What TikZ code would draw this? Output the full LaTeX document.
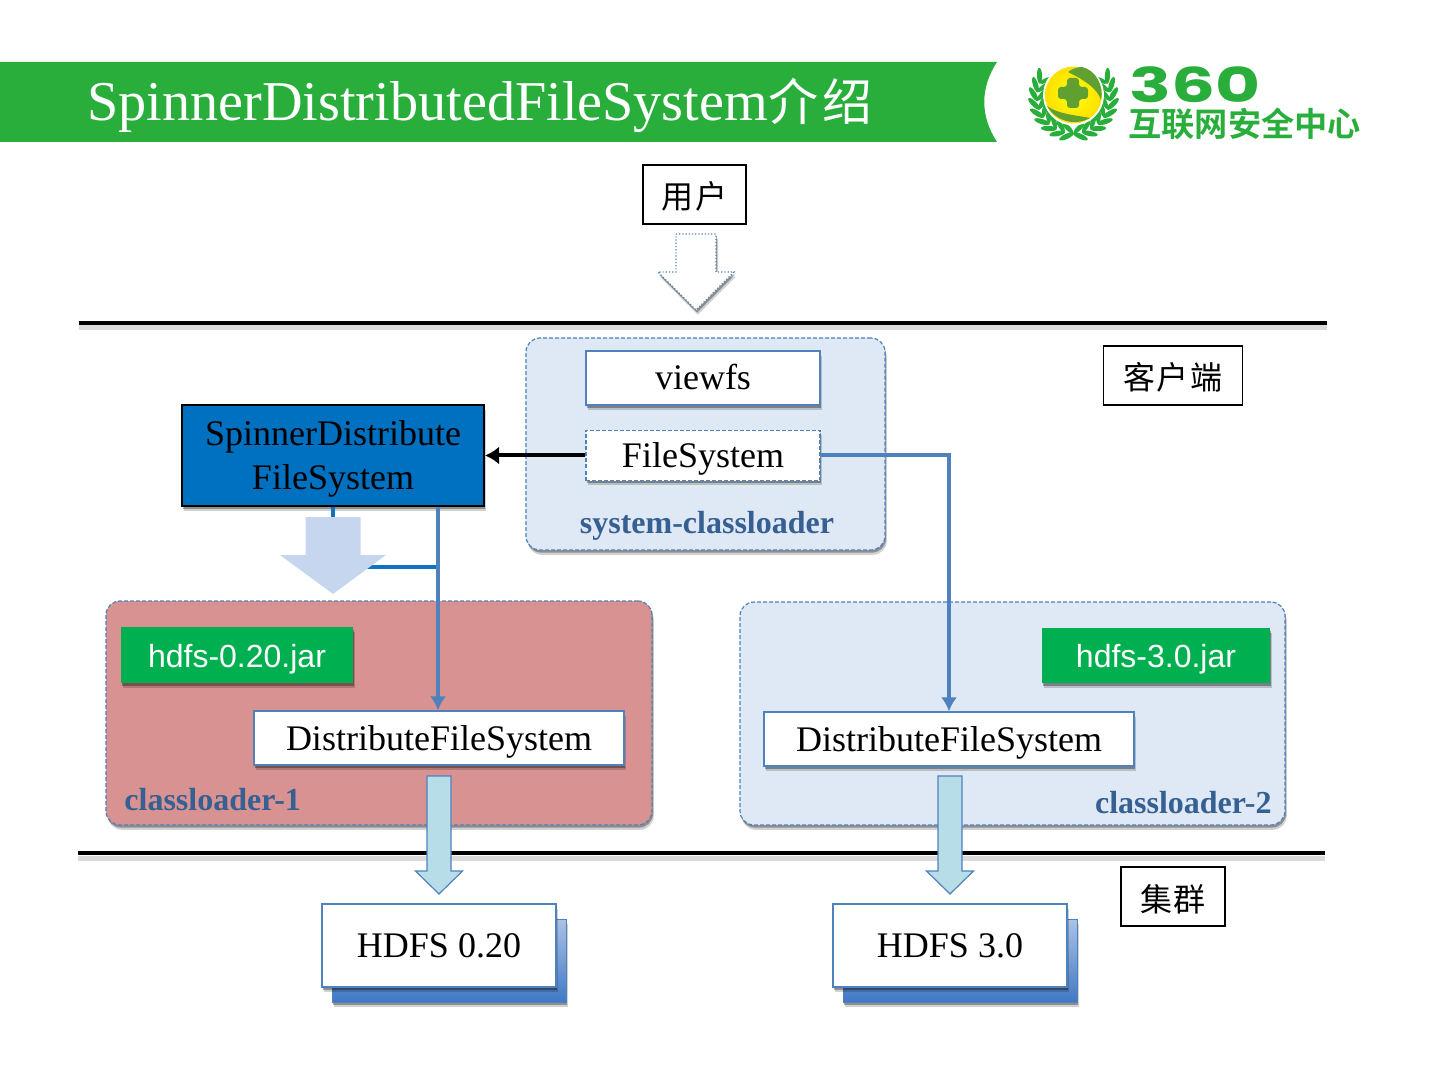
\documentclass[tikz,border=0pt]{standalone}
\usepackage{fontspec}
\setmainfont{Liberation Serif}
\setsansfont{Liberation Sans}
\newfontfamily\cjk[LetterSpace=6]{Noto Sans CJK SC}
\newfontfamily\cjktitle[LetterSpace=8]{Noto Sans CJK SC}
\newfontfamily\cjklogo{Noto Sans CJK SC Bold}
\newfontfamily\logonum{Poppins Bold}
\usetikzlibrary{arrows.meta,positioning,calc,shadows}
\definecolor{BarGreen}{RGB}{41,174,60}
\definecolor{JarGreen}{RGB}{0,176,80}
\definecolor{LoaderBlue}{RGB}{223,232,245}
\definecolor{LoaderRed}{RGB}{216,146,146}
\definecolor{EdgeBlue}{RGB}{79,129,189}
\definecolor{LabelBlue}{RGB}{54,96,146}
\definecolor{SpinnerBlue}{RGB}{0,112,192}
\definecolor{PaleArrow}{RGB}{198,214,238}
\definecolor{SkyArrow}{RGB}{183,221,232}
\definecolor{BackBlue}{RGB}{66,120,198}
\definecolor{BallGreen}{RGB}{96,160,48}
\newcommand{\blockarrow}[7]{% x, top, neck, tip, half body, half head, style
  \draw[#7] (#1-#5,#2) -- (#1+#5,#2) -- (#1+#5,#3) -- (#1+#6,#3) -- (#1,#4) -- (#1-#6,#3) -- (#1-#5,#3) -- cycle;
}
\begin{document}
\begin{tikzpicture}[
  x=0.5pt,y=-0.5pt,
  softshadow/.style={
    drop shadow={shadow xshift=0.9pt,shadow yshift=-2.4pt,opacity=0.18,fill=black},
    drop shadow={shadow xshift=0.5pt,shadow yshift=-1.3pt,opacity=0.32,fill=black}},
  tag/.style={rectangle,draw=black,line width=0.6pt,fill=white,font=\cjk\fontsize{16}{20}\selectfont,inner sep=0pt,text height=15pt,text depth=0.5pt},
  finedash/.style={dash pattern=on 2pt off 1pt},
  loader/.style={rectangle,rounded corners=7pt,draw=EdgeBlue,finedash,line width=0.6pt,softshadow,inner sep=0pt},
  inbox/.style={rectangle,draw=EdgeBlue,line width=0.6pt,fill=white,softshadow,font=\fontsize{18}{22}\selectfont,inner sep=0pt,text height=14pt,text depth=2pt},
  jar/.style={rectangle,fill=JarGreen,text=white,softshadow,font=\sffamily\fontsize{16}{20}\selectfont,inner sep=0pt,text height=14pt,text depth=2pt},
  loadername/.style={font=\bfseries\fontsize{16}{20}\selectfont,text=LabelBlue,inner sep=0pt},
  back/.style={rectangle,draw=EdgeBlue,line width=0.5pt,top color=BackBlue!45,bottom color=BackBlue,softshadow,inner sep=0pt},
  rule/.style={line width=2pt,draw=black},
  ruleshade/.style={line width=2.5pt,draw=black!14},
  link/.style={draw=EdgeBlue,line width=2pt,-{Latex[length=7pt,width=8pt]}},
  leaf/.style={fill=BarGreen,draw=none}
]
  \useasboundingbox (0,0) rectangle (1440,1080);
  % title bar
  \fill[BarGreen] (0,62) -- (997,62) .. controls (980,88) and (980,116) .. (997,142) -- (0,142) -- cycle;
  \node[anchor=west,text=white,inner sep=0pt,font=\fontsize{28.1}{34}\selectfont] (title) at (87,105) {SpinnerDistributedFileSystem{\cjktitle\fontsize{25}{34}\selectfont 介绍}};
  % logo
  \foreach \a in {-80,-66,...,40} {
    \begin{scope}[shift={(1073.5,97)}]
      \fill[leaf] (\a:20pt) ellipse[x radius=4pt,y radius=1.3pt,rotate=\a+55];
      \fill[leaf] (\a:15.8pt) ellipse[x radius=3.6pt,y radius=1.2pt,rotate=\a+125];
      \fill[leaf] (180-\a:20pt) ellipse[x radius=4pt,y radius=1.3pt,rotate=125-\a];
      \fill[leaf] (180-\a:15.8pt) ellipse[x radius=3.6pt,y radius=1.2pt,rotate=55-\a];
    \end{scope}
  }
  \fill[white] (1073.5,95) circle[radius=15.2pt];
  \shade[inner color=yellow!95!white,outer color=yellow!75!orange] (1073.5,95) circle[radius=14.2pt];
  \fill[BallGreen] (1082,67) .. controls (1096,70) and (1104,86) .. (1101,100) .. controls (1097,88) and (1084,80) .. (1068,72) .. controls (1072,69) and (1077,67) .. (1082,67) -- cycle;
  \fill[BallGreen] (1047,106) .. controls (1058,114) and (1074,115) .. (1090,118) .. controls (1076,126) and (1056,122) .. (1047,106) -- cycle;
  \fill[BallGreen,rounded corners=1.5pt] (1067,78) -- (1079,78) -- (1079,87) -- (1088,87) -- (1088,99) -- (1079,99) -- (1079,108) -- (1067,108) -- (1067,99) -- (1058,99) -- (1058,87) -- (1067,87) -- cycle;
  \node[anchor=west,inner sep=0pt,text=BarGreen,xscale=1.44,text height=17pt,text depth=0pt,font=\logonum\fontsize{24}{28}\selectfont] (logonum) at (1129,85.5) {360};
  \node[anchor=west,inner sep=0pt,text=BarGreen,text height=11pt,text depth=1pt,font=\cjklogo\fontsize{16.6}{20}\selectfont] (logotext) at (1128,127) {互联网安全中心};
  % layers
  \draw[ruleshade] (79,328) -- (1327,328);
  \draw[rule] (79,323) -- (1327,323);
  \draw[ruleshade] (78,858) -- (1325,858);
  \draw[rule] (78,853) -- (1325,853);
  \node[tag,minimum width=51.5pt,minimum height=29.5pt] (user) at (694.5,194.5) {用户};
  \node[tag,minimum width=69.5pt,minimum height=29.5pt] (client) at (1173,375.5) {客户端};
  \node[tag,minimum width=52pt,minimum height=29.5pt] (cluster) at (1173,896.5) {集群};
  \blockarrow{696}{234}{272}{310}{20}{38}{draw=EdgeBlue,densely dotted,line width=0.6pt,fill=white,softshadow}
  % loaders
  \node[loader,fill=LoaderBlue,minimum width=179.5pt,minimum height=106pt] (sysloader) at (705.5,444) {};
  \node[loader,fill=LoaderRed,minimum width=273pt,minimum height=112pt] (loader1) at (379,713) {};
  \node[loader,fill=LoaderBlue,minimum width=272.5pt,minimum height=111.5pt] (loader2) at (1012.5,713.5) {};
  \node[inbox,minimum width=117pt,minimum height=27pt] (viewfs) at (703,378) {viewfs};
  \node[inbox,finedash,minimum width=117pt,minimum height=25pt] (fs) at (703,455.5) {FileSystem};
  \node[loadername] (sysname) at (707,525.5) {system-classloader};
  \node[rectangle,draw=black,line width=1pt,fill=SpinnerBlue,softshadow,minimum width=151pt,minimum height=50.5pt,align=center,inner sep=0pt,text depth=0pt,font=\fontsize{18}{22}\selectfont] (spinner) at (333,455.5) {SpinnerDistribute\\FileSystem};
  \node[jar,minimum width=116pt,minimum height=28pt] (jar1) at (237,655) {hdfs-0.20.jar};
  \node[jar,minimum width=114pt,minimum height=27.5pt] (jar2) at (1156,655.5) {hdfs-3.0.jar};
  \node[inbox,minimum width=185pt,minimum height=27pt] (dfs1) at (439,738) {DistributeFileSystem};
  \node[inbox,minimum width=185pt,minimum height=27pt] (dfs2) at (949,739) {DistributeFileSystem};
  \node[loadername,anchor=west] (name1) at (124,799.5) {classloader-1};
  \node[loadername,anchor=east] (name2) at (1272,802.5) {classloader-2};
  % links
  \coordinate (turn) at (438,567);
  \draw[draw=SpinnerBlue!80!EdgeBlue,line width=2pt] (spinner.south) -- (spinner.south |- turn) -- (turn);
  \blockarrow{333}{517}{555}{594}{27.5}{53}{fill=PaleArrow,draw=none}
  \draw[link] (spinner.south -| dfs1.north) ++(-1,0) coordinate (spout) -- (spout |- dfs1.north);
  \draw[link] (fs.east) -| (dfs2.north);
  \draw[draw=black,line width=2pt,-{Latex[length=7pt,width=9pt]}] (fs.west) -- (fs.west -| spinner.east);
  % clusters
  \node[back,minimum width=117pt,minimum height=41.5pt] (back1) at (449,960.5) {};
  \node[back,minimum width=117pt,minimum height=41.5pt] (back2) at (960,960.5) {};
  \node[inbox,minimum width=117pt,minimum height=41.5pt] (hdfs1) at (439,945.5) {HDFS 0.20};
  \node[inbox,minimum width=117pt,minimum height=41.5pt] (hdfs2) at (950,945.5) {HDFS 3.0};
  \blockarrow{439}{776}{871}{894}{12}{23.5}{draw=EdgeBlue,line width=0.6pt,fill=SkyArrow}
  \blockarrow{950}{776}{871}{894}{12}{23.5}{draw=EdgeBlue,line width=0.6pt,fill=SkyArrow}
\end{tikzpicture}
\end{document}
